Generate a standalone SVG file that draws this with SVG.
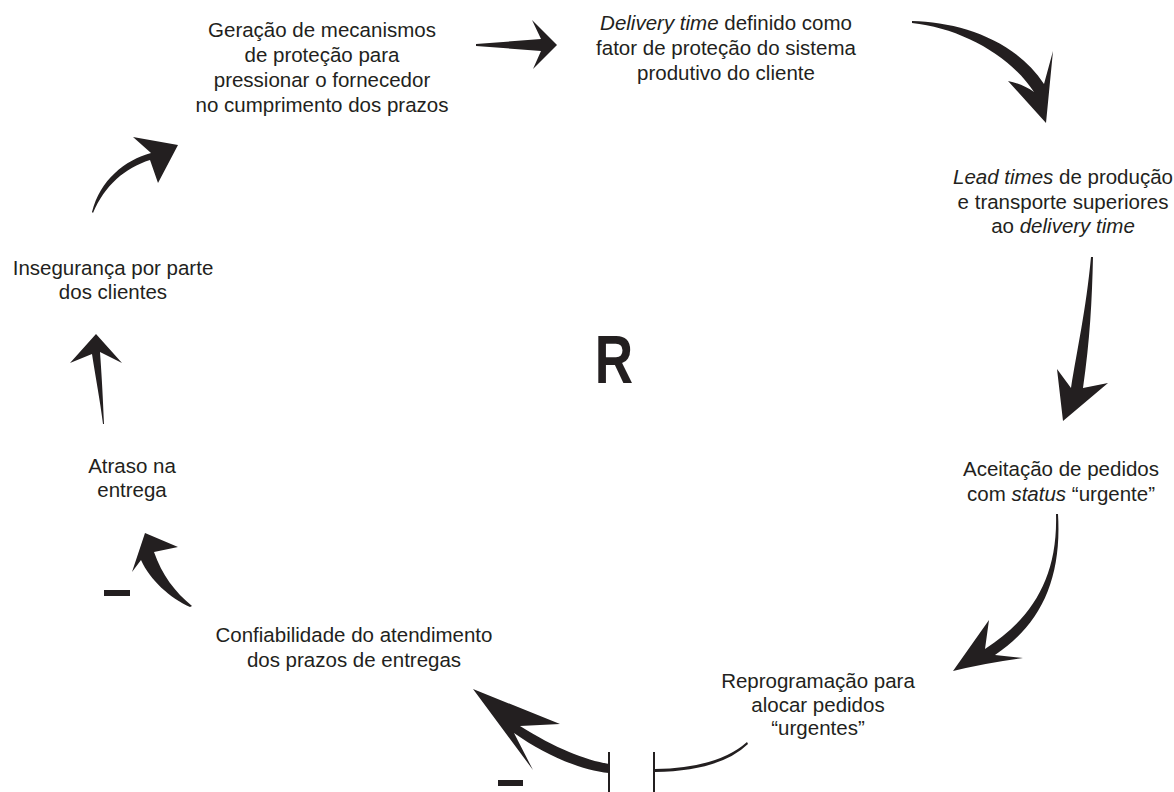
<svg xmlns="http://www.w3.org/2000/svg" width="1174" height="792" viewBox="0 0 1174 792">
<style>
.t{font-family:"Liberation Sans",Arial,sans-serif;font-size:20.5px;fill:#231f20;text-anchor:middle}
.i{font-style:italic}
.a{fill:#231f20;stroke:none}
</style>
<rect width="1174" height="792" fill="#fff"/>
<g id="connectors">
<path class="a" d="M476,44 L541,39 L532,20 L557,45 L533,69 L541,51 L476,46 Z"/>
<path class="a" d="M912,21 C960,22 1015,40 1044,84 L1053,51 L1046,123 L1008,81 C1018,83 1027,87 1034,92 C1010,55 960,28 912,23 Z"/>
<path class="a" d="M1093,257 C1092,300 1090,340 1083,388 L1108,383 L1063,421 L1057,369 L1071,388 C1077,350 1086,310 1091,257 Z"/>
<path class="a" d="M1058,514 C1062,580 1040,625 995,655 L1023,658 Q985,663 953,671 L989,620 L985,649 C1030,620 1058,580 1056,514 Z"/>
<path class="a" d="M747,742 Q718,768 655,769 L655,772 Q720,771 748,744 Z"/>
<rect class="a" x="653" y="752" width="2" height="40"/>
<rect class="a" x="608" y="752" width="2" height="40"/>
<path class="a" d="M609,764 C585,760 555,748 520,726 L560,724 L473,689 L533,770 L514,733 C545,755 580,770 609,773 Z"/>
<rect class="a" x="498" y="780" width="25" height="6"/>
<path class="a" d="M192,606 C175,592 162,575 154,552 L178,547 L145,533 L132,572 L141,560 C150,580 170,598 190,607 Z"/>
<rect class="a" x="104" y="590" width="26" height="6"/>
<path class="a" d="M103,424 C100,400 96,380 92,354 L70,363 L96,334 L122,363 L100,352 C102,380 103,400 104,424 Z"/>
<path class="a" d="M93,213 C105,185 125,168 150,160 L158,183 L178,145 L133,137 L151,153 C125,160 100,180 92,212 Z"/>
</g>
<g id="n1">
<text class="t" x="322" y="37">Geração de mecanismos</text>
<text class="t" x="322" y="62">de proteção para</text>
<text class="t" x="322" y="87">pressionar o fornecedor</text>
<text class="t" x="322" y="112">no cumprimento dos prazos</text>
</g>
<g id="n2">
<text class="t" x="726" y="30"><tspan class="i">Delivery time</tspan> definido como</text>
<text class="t" x="726" y="55">fator de proteção do sistema</text>
<text class="t" x="726" y="80">produtivo do cliente</text>
</g>
<g id="n3">
<text class="t" x="1063" y="184"><tspan class="i">Lead times</tspan> de produção</text>
<text class="t" x="1063" y="209">e transporte superiores</text>
<text class="t" x="1063" y="233">ao <tspan class="i">delivery time</tspan></text>
</g>
<g id="n4">
<text class="t" x="1061" y="476">Aceitação de pedidos</text>
<text class="t" x="1061" y="501">com <tspan class="i">status</tspan> “urgente”</text>
</g>
<g id="n5">
<text class="t" x="818" y="688">Reprogramação para</text>
<text class="t" x="818" y="712">alocar pedidos</text>
<text class="t" x="818" y="735">“urgentes”</text>
</g>
<g id="n6">
<text class="t" x="354" y="642">Confiabilidade do atendimento</text>
<text class="t" x="354" y="667">dos prazos de entregas</text>
</g>
<g id="n7">
<text class="t" x="113" y="275">Insegurança por parte</text>
<text class="t" x="113" y="299">dos clientes</text>
</g>
<g id="n8">
<text class="t" x="132" y="473">Atraso na</text>
<text class="t" x="132" y="497">entrega</text>
</g>
<g id="loop">
<text x="0" y="0" transform="translate(614,383) scale(0.78,1)" style="font-family:'Liberation Sans',Arial,sans-serif;font-weight:bold;font-size:68px;fill:#231f20;text-anchor:middle">R</text>
</g>
</svg>
